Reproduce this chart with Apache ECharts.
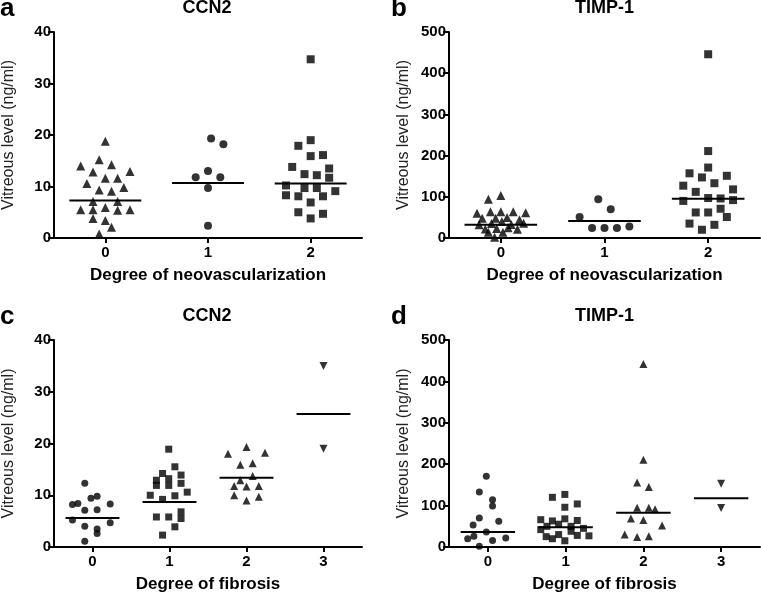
<!DOCTYPE html>
<html>
<head>
<meta charset="utf-8">
<script src="https://cdn.jsdelivr.net/npm/echarts@6/dist/echarts.min.js"></script>
<style>html,body{margin:0;padding:0;background:#fff}#c{width:761px;height:595px}</style>
</head>
<body>
<div id="c"></div>
<script>
// ---- Data (x = group index with horizontal jitter, y = value) ----
const neoCategories = ['0', '1', '2'];
const fibCategories = ['0', '1', '2', '3'];

// Panel a: CCN2 vs degree of neovascularization
const ccn2Neo0 = [[0,18.8],[-0.06,15.2],[-0.24,14.0],[0.06,14.2],[-0.12,12.8],[0.24,12.9],[0,11.6],[0.12,11.6],[-0.18,10.6],[0.18,9.8],[-0.06,9.3],[0.06,9.1],[-0.12,7.1],[0.12,7.1],[-0.24,5.5],[-0.12,5.5],[0,5.9],[0.12,5.4],[0.24,5.5],[-0.12,3.8],[0,3.4],[0.06,2.1],[-0.06,0.8]];
const ccn2Neo1 = [[1.03,19.3],[1.15,18.2],[0.88,11.8],[1.0,13.0],[1.12,11.8],[1.0,9.7],[1.0,2.4]];
const ccn2Neo2 = [[2,34.7],[2,19.0],[1.88,17.9],[2.12,16.1],[2,15.9],[1.82,13.8],[2.18,13.5],[1.94,12.4],[2.06,12.2],[2.18,11.7],[1.76,10.2],[1.94,9.7],[2.06,9.7],[2.24,9.1],[1.76,8.3],[1.88,8.1],[2.12,8.1],[2,6.9],[1.88,5.0],[2.12,4.7],[2,3.8]];
const ccn2NeoMedians = [7.3, 10.7, 10.6];

// Panel b: TIMP-1 vs degree of neovascularization
const timpNeo0 = [[-0.12,94],[0,103],[-0.23,60],[-0.1,64],[0,64],[0.12,64],[0.24,61],[-0.18,48],[-0.05,48],[0.06,50],[0.18,44],[-0.21,32],[-0.09,35],[0.01,40],[0.1,33],[0.22,36],[-0.15,22],[-0.04,23],[0.07,25],[0.16,21],[-0.12,14],[0.02,14],[-0.06,2]];
const timpNeo1 = [[0.76,51],[0.94,94],[1.06,70],[0.88,24],[1.0,24],[1.12,24],[1.24,28]];
const timpNeo2 = [[2,446],[2,211],[2,171],[1.82,157],[1.94,147],[2.18,151],[2.06,133],[1.76,127],[1.88,112],[2.24,118],[1.76,90],[2,97],[2.12,96],[2.24,92],[1.88,62],[2,62],[2.12,71],[2.18,51],[1.82,35],[2.06,32],[1.94,20]];
const timpNeoMedians = [32, 41, 95];

// Panel c: CCN2 vs degree of fibrosis
const ccn2Fib0 = [[-0.1,12.3],[-0.26,8.2],[-0.19,8.4],[-0.02,9.4],[0.06,9.8],[0.23,8.3],[-0.1,7.1],[0.06,7.2],[-0.26,5.2],[-0.1,4.0],[0.23,4.7],[0.06,3.5],[0.06,2.6],[-0.1,1.1]];
const ccn2Fib1 = [[0.99,18.9],[1.07,15.5],[0.91,14.2],[0.83,12.9],[0.99,13.2],[1.15,13.9],[0.83,11.9],[0.99,11.9],[1.15,12.3],[1.23,10.6],[0.75,10.0],[0.91,9.2],[1.07,9.9],[0.83,5.8],[0.99,5.8],[1.15,6.8],[1.15,5.5],[1.07,3.9],[0.91,2.3]];
const ccn2Fib2 = [[2.0,19.3],[1.76,18.0],[2.24,18.2],[1.92,15.9],[2.08,16.2],[2.08,13.7],[1.92,12.9],[1.84,11.8],[2.0,11.7],[2.16,11.8],[1.84,10.0],[2.16,9.7],[2.0,9.0]];
const ccn2Fib3 = [[3,35.0],[3,19.0]];
const ccn2FibMedians = [5.6, 8.7, 13.4, 25.7];

// Panel d: TIMP-1 vs degree of fibrosis
const timpFib0 = [[-0.02,171],[-0.11,133],[0.06,114],[0.06,99],[-0.11,70],[0.14,62],[-0.19,53],[-0.02,36],[-0.26,20],[-0.18,26],[0.06,16],[0.23,22],[-0.11,2]];
const timpFib1 = [[0.83,120],[0.99,127],[0.99,96],[1.15,104],[0.68,66],[0.83,63],[0.99,68],[1.15,64],[0.68,42],[0.76,50],[0.91,55],[1.07,50],[1.23,45],[0.75,25],[0.91,30],[1.07,38],[1.15,28],[1.3,27],[0.99,15],[0.83,20]];
const timpFib2 = [[2.0,442],[2.0,211],[1.92,156],[2.07,145],[1.92,95],[2.07,95],[2.15,91],[1.84,69],[2.0,65],[2.24,52],[1.76,30],[1.92,24],[2.07,26]];
const timpFib3 = [[3,153],[3,94]];
const timpFibMedians = [36, 47.6, 83, 118];

// ---- Chart ----
const FONT = '"Liberation Sans", Arial, Helvetica, sans-serif';
const grids = [
  {left: 52, top: 32, width: 310, height: 206},
  {left: 449, top: 32, width: 311, height: 206},
  {left: 52, top: 340, width: 310, height: 207},
  {left: 449, top: 340, width: 311, height: 207}
];
const panels = [
  {cats: neoCategories, name: 'Degree of neovascularization', max: 40, interval: 10, title: 'CCN2', letter: 'a',
   groups: [[ccn2Neo0,'triangle',0],[ccn2Neo1,'circle',0],[ccn2Neo2,'rect',0]], medians: ccn2NeoMedians, size: 8},
  {cats: neoCategories, name: 'Degree of neovascularization', max: 500, interval: 100, title: 'TIMP-1', letter: 'b',
   groups: [[timpNeo0,'triangle',0],[timpNeo1,'circle',0],[timpNeo2,'rect',0]], medians: timpNeoMedians, size: 8},
  {cats: fibCategories, name: 'Degree of fibrosis', max: 40, interval: 10, title: 'CCN2', letter: 'c',
   groups: [[ccn2Fib0,'circle',0],[ccn2Fib1,'rect',0],[ccn2Fib2,'triangle',0],[ccn2Fib3,'triangle',180]], medians: ccn2FibMedians, size: 7},
  {cats: fibCategories, name: 'Degree of fibrosis', max: 500, interval: 100, title: 'TIMP-1', letter: 'd',
   groups: [[timpFib0,'circle',0],[timpFib1,'rect',0],[timpFib2,'triangle',0],[timpFib3,'triangle',180]], medians: timpFibMedians, size: 7}
];

const xAxis = [], yAxis = [], series = [], title = [];
const axisLine = {show: true, onZero: false, lineStyle: {color: '#000', width: 2}};
panels.forEach((p, i) => {
  const g = grids[i];
  // visible category axis (labels & ticks)
  xAxis.push({
    type: 'category', gridIndex: i, data: p.cats, boundaryGap: true,
    axisLine: axisLine,
    axisTick: {show: true, alignWithLabel: true, length: 5, lineStyle: {color: '#000', width: 2}},
    axisLabel: {color: '#000', fontFamily: FONT, fontWeight: 'bold', fontSize: 15, margin: 7},
    name: p.name, nameLocation: 'middle', nameGap: 29,
    nameTextStyle: {color: '#000', fontFamily: FONT, fontWeight: 'bold', fontSize: 17},
    splitLine: {show: false}
  });
  // hidden value axis used to place jittered points
  xAxis.push({
    type: 'value', gridIndex: i, min: -0.5, max: p.cats.length - 0.5,
    show: false, splitLine: {show: false}
  });
  yAxis.push({
    type: 'value', gridIndex: i, min: 0, max: p.max, interval: p.interval,
    axisLine: axisLine,
    axisTick: {show: true, length: 6, lineStyle: {color: '#000', width: 2}},
    axisLabel: {color: '#000', fontFamily: FONT, fontWeight: 'bold', fontSize: 15, margin: 3},
    splitLine: {show: false},
    name: 'Vitreous level (ng/ml)', nameLocation: 'middle', nameGap: 37,
    nameTextStyle: {color: '#222', fontFamily: FONT, fontSize: 16}
  });
  p.groups.forEach(([data, sym, rot]) => {
    series.push({
      type: 'scatter', xAxisIndex: 2 * i + 1, yAxisIndex: i, data: data,
      symbol: sym, symbolRotate: rot, symbolSize: sym === 'triangle' ? p.size + 1 : p.size,
      itemStyle: {color: '#000'}, clip: false, silent: true, z: 2
    });
  });
  series.push({
    type: 'custom', xAxisIndex: 2 * i + 1, yAxisIndex: i, clip: false, silent: true, z: 3,
    data: p.medians.map((m, k) => [k, m]),
    renderItem: function (params, api) {
      const k = api.value(0), m = api.value(1);
      const p1 = api.coord([k - 0.35, m]);
      const p2 = api.coord([k + 0.35, m]);
      return {type: 'line', shape: {x1: p1[0], y1: p1[1], x2: p2[0], y2: p2[1]},
              style: {stroke: '#000', lineWidth: 2}};
    }
  });
  title.push({
    text: p.title, left: g.left + g.width / 2, textAlign: 'center', top: g.top - 33, padding: 0,
    textStyle: {color: '#000', fontFamily: FONT, fontWeight: 'bold', fontSize: 18}
  });
  title.push({
    text: p.letter, left: i % 2 === 0 ? 0 : 391, top: g.top - 36, padding: 0,
    textStyle: {color: '#000', fontFamily: FONT, fontWeight: 'bold', fontSize: 26}
  });
});

const chart = echarts.init(document.getElementById('c'), null, {renderer: 'canvas'});
chart.setOption({
  animation: false,
  backgroundColor: '#fff',
  title: title,
  grid: grids,
  xAxis: xAxis,
  yAxis: yAxis,
  series: series
});
</script>
</body>
</html>
